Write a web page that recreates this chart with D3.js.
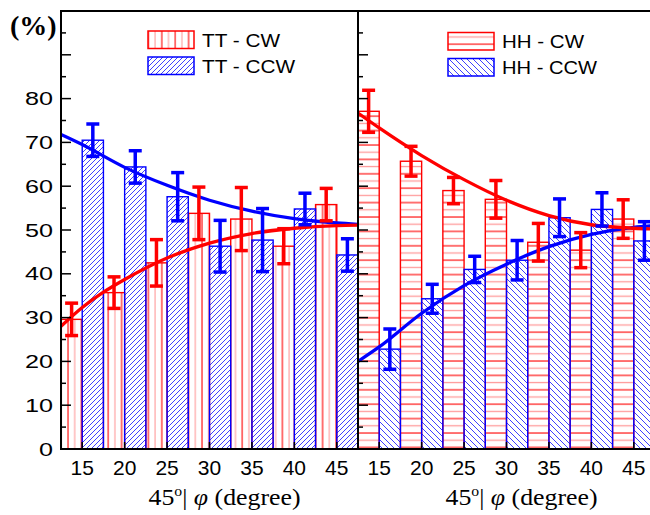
<!DOCTYPE html>
<html>
<head>
<meta charset="utf-8">
<script src="https://cdn.jsdelivr.net/npm/d3@7"></script>
<style>
  body { margin: 0; background: #fff; }
  svg { display: block; }
</style>
</head>
<body>
<svg id="chart" width="650" height="515"></svg>
<script>
// data
const angles = [15, 20, 25, 30, 35, 40, 45];

const ttCw = [29.6, 35.7, 42.5, 53.8, 52.5, 46.3, 55.8];
const ttCwErr = [3.7, 3.6, 5.3, 6.0, 7.2, 4.0, 3.7];
const ttCcw = [70.5, 64.4, 57.6, 46.3, 47.7, 54.8, 44.3];
const ttCcwErr = [3.7, 3.7, 5.5, 5.9, 7.2, 3.6, 3.7];

const hhCw = [77.1, 65.7, 59.0, 57.0, 47.2, 45.4, 52.5];
const hhCwErr = [4.8, 3.4, 3.0, 4.3, 4.3, 4.0, 4.4];
const hhCcw = [22.8, 34.3, 41.0, 43.1, 52.8, 54.7, 47.5];
const hhCcwErr = [4.6, 3.3, 3.0, 4.5, 4.3, 3.8, 4.4];

// fitted curves, points
const ttCwFit = [[12.5, 28], [15, 32.3], [17.5, 35.8], [20, 38.7], [25, 43.6], [30, 47], [35, 49.2], [40, 50.4], [45, 51], [47.5, 51.1]];
const ttCcwFit = [[12.5, 71.8], [15, 69.5], [20, 64.3], [25, 60.2], [30, 56.8], [35, 54.3], [40, 52.6], [45, 51.6], [47.5, 51.3]];
const hhCwFit = [[12.5, 76.7], [15, 73.3], [20, 67], [25, 61.5], [30, 56.8], [35, 53.3], [40, 51.2], [45, 50.4], [47.5, 50.2]];
const hhCcwFit = [[12.5, 20], [15, 23.3], [20, 31], [25, 37.3], [30, 42.2], [35, 46.2], [40, 49], [45, 50.6], [47.5, 51]];

const yTickLabels = [0, 10, 20, 30, 40, 50, 60, 70, 80];

const SANS = "'Liberation Sans', Arial, sans-serif";
const SERIF = "'Liberation Serif', 'Times New Roman', 'DejaVu Serif', serif";
const RED = "#ff0000", PINK = "#ff9a9a", BLUE = "#0000ff";
const panelW = 297, yTop = 11, yBottom = 449;
const panels = [
  { x0: 61, cw: ttCw, cwErr: ttCwErr, ccw: ttCcw, ccwErr: ttCcwErr, cwFit: ttCwFit, ccwFit: ttCcwFit,
    cwPat: "pat-vert", ccwPat: "pat-fwd", names: ["TT - CW", "TT - CCW"], legendX: 148, legendW: [78, 93],
    legendY: [31, 57], textY: [46.7, 73.3], labels: true },
  { x0: 358, cw: hhCw, cwErr: hhCwErr, ccw: hhCcw, ccwErr: hhCcwErr, cwFit: hhCwFit, ccwFit: hhCcwFit,
    cwPat: "pat-horz", ccwPat: "pat-back", names: ["HH - CW", "HH - CCW"], legendX: 448, legendW: [82, 95],
    legendY: [32.5, 58.5], textY: [48.3, 74.3], labels: false }
];

const svg = d3.select("#chart");
const defs = svg.append("defs");

// hatch patterns
let p = defs.append("pattern").attr("id", "pat-vert").attr("patternUnits", "userSpaceOnUse")
  .attr("width", 13.4).attr("height", 10);
p.append("line").attr("x1", 1).attr("x2", 1).attr("y1", 0).attr("y2", 10).attr("stroke", RED).attr("stroke-width", 1.1);
p.append("line").attr("x1", 7.7).attr("x2", 7.7).attr("y1", 0).attr("y2", 10).attr("stroke", PINK).attr("stroke-width", 1.1);

p = defs.append("pattern").attr("id", "pat-horz").attr("patternUnits", "userSpaceOnUse")
  .attr("width", 10).attr("height", 14.4);
p.append("line").attr("y1", 1).attr("y2", 1).attr("x1", 0).attr("x2", 10).attr("stroke", RED).attr("stroke-width", 1.1);
p.append("line").attr("y1", 8.2).attr("y2", 8.2).attr("x1", 0).attr("x2", 10).attr("stroke", PINK).attr("stroke-width", 1.3);

p = defs.append("pattern").attr("id", "pat-fwd").attr("patternUnits", "userSpaceOnUse")
  .attr("width", 5).attr("height", 5);
p.append("path").attr("d", "M0,5L5,0M-1,1L1,-1M4,6L6,4").attr("stroke", BLUE).attr("stroke-width", 0.75);

p = defs.append("pattern").attr("id", "pat-back").attr("patternUnits", "userSpaceOnUse")
  .attr("width", 6).attr("height", 6);
p.append("path").attr("d", "M0,0L6,6M-1,5L1,7M5,-1L7,1").attr("stroke", BLUE).attr("stroke-width", 0.75);

const y = d3.scaleLinear().domain([0, 100]).range([yBottom, yTop]);

panels.forEach((pn, pi) => {
  const x = d3.scaleLinear().domain([12.5, 47.5]).range([pn.x0, pn.x0 + panelW]);
  const g = svg.append("g").attr("class", "panel-" + pi);
  const clipId = "clip-" + pi;
  defs.append("clipPath").attr("id", clipId).append("rect")
    .attr("x", pn.x0).attr("y", yTop).attr("width", panelW).attr("height", yBottom - yTop);
  const plot = g.append("g").attr("clip-path", `url(#${clipId})`);

  const bars = [
    { vals: pn.cw, off: -2.5, pat: pn.cwPat, col: RED },
    { vals: pn.ccw, off: 0, pat: pn.ccwPat, col: BLUE }
  ];
  bars.forEach(b => {
    plot.selectAll(null).data(b.vals).join("rect")
      .attr("x", (d, i) => x(angles[i] + b.off))
      .attr("width", x(15) - x(12.5))
      .attr("y", d => y(d))
      .attr("height", d => y(0) - y(d))
      .attr("fill", `url(#${b.pat})`)
      .attr("stroke", b.col)
      .attr("stroke-width", 1.4);
  });

  const line = d3.line().x(d => x(d[0])).y(d => y(d[1])).curve(d3.curveMonotoneX);
  [[pn.ccwFit, BLUE], [pn.cwFit, RED]].forEach(([pts, col]) => {
    plot.append("path").attr("d", line(pts)).attr("fill", "none")
      .attr("stroke", col).attr("stroke-width", 3.3);
  });

  const errs = [
    { vals: pn.cw, err: pn.cwErr, off: -1.25, col: RED },
    { vals: pn.ccw, err: pn.ccwErr, off: 1.25, col: BLUE }
  ];
  errs.forEach(e => {
    const eg = plot.append("g").attr("stroke", e.col).attr("stroke-width", 3.5);
    e.vals.forEach((v, i) => {
      const cx = x(angles[i] + e.off);
      eg.append("line").attr("x1", cx).attr("x2", cx).attr("y1", y(v - e.err[i])).attr("y2", y(v + e.err[i]));
      [v - e.err[i], v + e.err[i]].forEach(c => {
        eg.append("line").attr("x1", cx - 6.5).attr("x2", cx + 6.5).attr("y1", y(c)).attr("y2", y(c));
      });
    });
  });

  // frame
  g.append("rect").attr("x", pn.x0).attr("y", yTop).attr("width", panelW).attr("height", yBottom - yTop)
    .attr("fill", "none").attr("stroke", "#000").attr("stroke-width", 2);

  // y ticks (inward)
  const yt = d3.range(5, 100, 5);
  g.selectAll(null).data(yt).join("line")
    .attr("x1", pn.x0).attr("x2", d => pn.x0 + (d % 10 === 0 ? 10 : 5))
    .attr("y1", d => y(d)).attr("y2", d => y(d))
    .attr("stroke", "#000").attr("stroke-width", 1.5);

  // x ticks (inward)
  g.selectAll(null).data(angles).join("line")
    .attr("x1", d => x(d)).attr("x2", d => x(d))
    .attr("y1", yBottom).attr("y2", yBottom - 7)
    .attr("stroke", "#000").attr("stroke-width", 1.5);

  g.selectAll(null).data(angles).join("text")
    .attr("font-family", SANS)
    .attr("x", d => x(d)).attr("y", 475)
    .attr("text-anchor", "middle").attr("font-size", 21)
    .text(d => d);

  if (pn.labels) {
    g.selectAll(null).data(yTickLabels).join("text")
      .attr("font-family", SANS)
      .attr("x", 53).attr("y", d => y(d) + 6.5)
      .attr("text-anchor", "end").attr("font-size", 19)
      .attr("textLength", d => String(d).length * 14)
      .attr("lengthAdjust", "spacingAndGlyphs")
      .text(d => d);
  }

  // axis title
  const t = g.append("text").attr("font-family", SERIF)
    .attr("x", pn.x0 + 87.5).attr("y", 505).attr("font-size", 23)
    .attr("textLength", 152).attr("lengthAdjust", "spacingAndGlyphs");
  t.append("tspan").text("45");
  t.append("tspan").attr("font-size", 14).attr("dy", -9).text("o");
  t.append("tspan").attr("dy", 9).text("| ");
  t.append("tspan").attr("font-style", "italic").text("\u03c6");
  t.append("tspan").text(" (degree)");

  // legend
  [pn.cwPat, pn.ccwPat].forEach((pat, k) => {
    g.append("rect").attr("x", pn.legendX).attr("y", pn.legendY[k])
      .attr("width", 46).attr("height", 17.5)
      .attr("fill", `url(#${pat})`).attr("stroke", k === 0 ? RED : BLUE).attr("stroke-width", 1.5);
    g.append("text").attr("font-family", SANS)
      .attr("x", pn.legendX + 54).attr("y", pn.textY[k]).attr("font-size", 19)
      .attr("textLength", pn.legendW[k]).attr("lengthAdjust", "spacingAndGlyphs")
      .text(pn.names[k]);
  });
});

svg.append("text").attr("font-family", SERIF)
  .attr("x", 10).attr("y", 35).attr("font-size", 28).attr("font-weight", "bold")
  .text("(%)");
</script>
</body>
</html>
